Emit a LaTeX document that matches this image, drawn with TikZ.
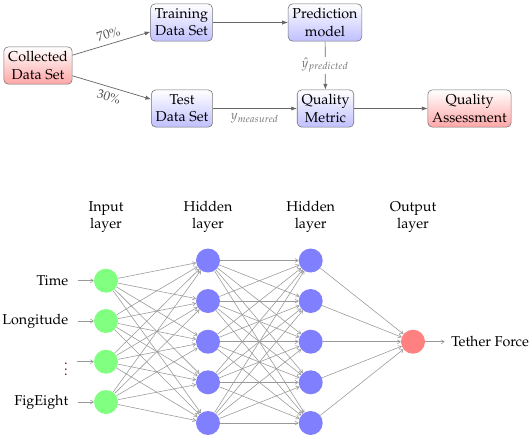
\documentclass[tikz,border=0pt]{standalone}
\usepackage[T1]{fontenc}
\usepackage{mathpazo}
\usetikzlibrary{arrows.meta}
\begin{document}
\begin{tikzpicture}[x=0.7pt,y=-0.7pt,
  box/.style={draw=black!55, rounded corners=3pt, align=center, minimum height=26pt, inner xsep=3pt, inner ysep=2pt},
  redbox/.style={box, top color=white, bottom color=red!35},
  bluebox/.style={box, top color=white, bottom color=blue!25},
  flow/.style={draw=black!60, -{Latex[length=4pt,width=3pt]}, line width=0.5pt},
  lbl/.style={text=black!55, font=\small},
  neuron/.style={circle, minimum size=16.8pt, inner sep=0pt, draw=none},
  inp/.style={neuron, fill=green!50},
  hid/.style={neuron, fill=blue!50},
  outp/.style={neuron, fill=red!50},
  edge/.style={draw=black!40, line width=0.4pt, -{To[length=2.5pt,width=3pt]}},
  head/.style={align=center}
]
\useasboundingbox (0,0) rectangle (532,440);
% top flow diagram
\node[redbox] (col) at (38,65.5) {Collected\\Data Set};
\node[bluebox] (train) at (181.5,22.5) {Training\\Data Set};
\node[bluebox] (test) at (182,108.5) {Test\\Data Set};
\node[bluebox] (pred) at (325,22.5) {Prediction\\model};
\node[bluebox] (qm) at (325.5,108.5) {Quality\\Metric};
\node[redbox] (qa) at (469.5,108.5) {Quality\\Assessment};
\draw[flow] (col) -- node[midway, above, sloped, text=black!70, font=\small] {70\%} (train);
\draw[flow] (col) -- node[midway, below, sloped, text=black!70, font=\small] {30\%} (test);
\draw[flow] (train) -- (pred);
\draw[flow] (pred) -- node[midway, fill=white, lbl, inner sep=1pt] {$\hat{y}_{predicted}$} (qm);
\draw[flow] (test) -- node[midway, below, lbl] {$y_{measured}$} (qm);
\draw[flow] (qm) -- (qa);
% neural network
\foreach \i/\y in {1/280.7,2/321,3/361.7,4/402}
  \node[inp] (I\i) at (106,\y) {};
\foreach \i/\y in {1/260.5,2/301,3/341.7,4/382.3,5/423}{
  \node[hid] (H\i) at (208,\y) {};
  \node[hid] (G\i) at (310.7,\y) {};
}
\node[outp] (O) at (413,341.7) {};
\foreach \i in {1,...,4}
  \foreach \j in {1,...,5}
    \draw[edge] (I\i) -- (H\j);
\foreach \i in {1,...,5}
  \foreach \j in {1,...,5}
    \draw[edge] (H\i) -- (G\j);
\foreach \i in {1,...,5}
  \draw[edge] (G\i) -- (O);
% input labels
\node[anchor=east, inner sep=0pt] (L1) at (68.5,280.7) {Time};
\node[anchor=east, inner sep=0pt] (L2) at (68.5,321) {Longitude};
\node[anchor=east, inner sep=0pt, text=red!45!black] (L3) at (68,365) {$\vdots$};
\node[anchor=east, inner sep=0pt] (L4) at (68.5,402) {FigEight};
\foreach \i in {1,...,4}
  \draw[edge, shorten <=6.5pt] (L\i.east |- I\i) -- (I\i);
\node[anchor=west, inner sep=0pt] (TF) at (451,341.7) {Tether Force};
\draw[edge, shorten >=4.5pt] (O) -- (TF);
% layer headings
\node[head] (h1) at (106,217) {Input\\layer};
\node[head] (h2) at (208,217) {Hidden\\layer};
\node[head] (h3) at (310.7,217) {Hidden\\layer};
\node[head] (h4) at (413,217) {Output\\layer};
\end{tikzpicture}
\end{document}
